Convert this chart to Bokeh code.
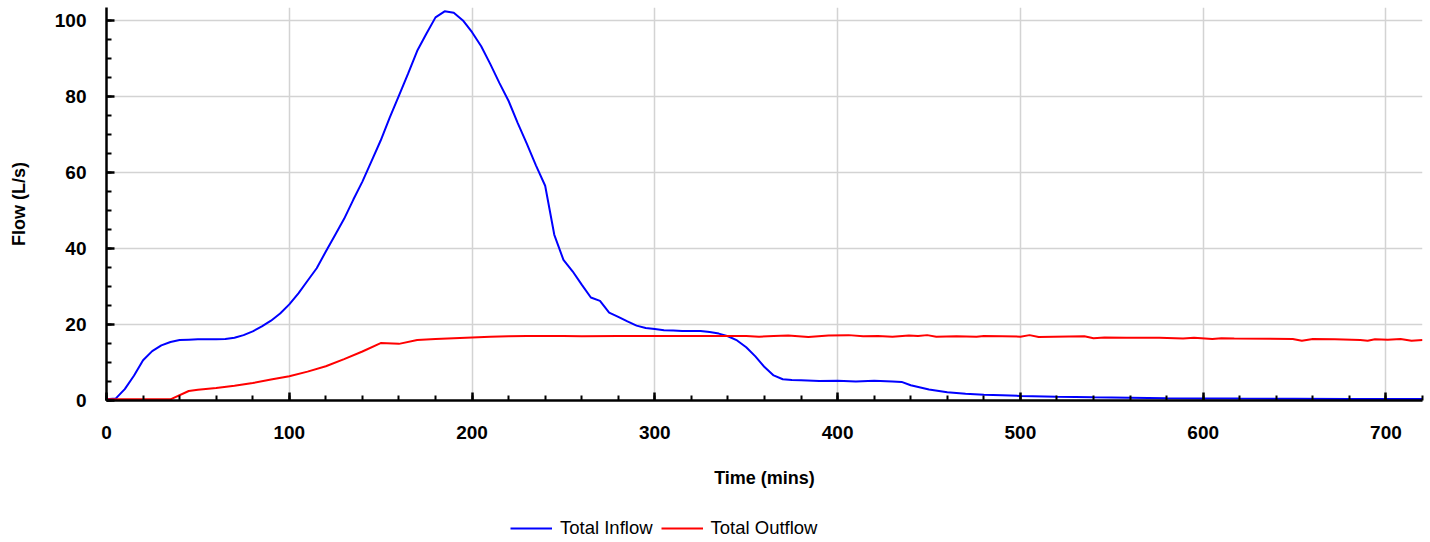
from bokeh.plotting import figure
from bokeh.layouts import column
from bokeh.models import Range1d, Legend, LegendItem, FixedTicker
from bokeh.embed import file_html
from bokeh.resources import INLINE

# ---- data ----
inflow_t = [0, 5, 10, 15, 20, 25, 30, 35, 40, 45, 50, 55, 60, 65, 70, 75, 80, 85, 90, 95,
            100, 105, 110, 115, 120, 125, 130, 135, 140, 145, 150, 155, 160, 165, 170, 175,
            180, 185, 190, 195, 200, 205, 210, 215, 220, 225, 230, 235, 240, 245, 250, 255,
            260, 265, 270, 275, 280, 285, 290, 295, 300, 305, 310, 315, 320, 325, 330, 335,
            340, 345, 350, 355, 360, 365, 370, 375, 380, 390, 400, 410, 420, 430, 435, 440,
            450, 460, 470, 480, 490, 500, 520, 540, 560, 580, 600, 620, 650, 680, 720]
inflow_v = [0.3, 0.5, 3.0, 6.5, 10.6, 13.0, 14.5, 15.4, 15.9, 16.0, 16.1, 16.1, 16.1, 16.2,
            16.5, 17.2, 18.2, 19.5, 21.0, 22.9, 25.3, 28.2, 31.5, 34.8, 39.2, 43.5, 47.8,
            52.8, 57.6, 63.0, 68.4, 74.5, 80.2, 86.0, 92.0, 96.5, 100.8, 102.4, 102.0, 100.0,
            96.9, 93.2, 88.5, 83.5, 78.8, 73.0, 67.5, 61.8, 56.5, 43.6, 37.0, 34.0, 30.5,
            27.1, 26.2, 23.1, 22.0, 20.8, 19.7, 19.1, 18.8, 18.5, 18.4, 18.3, 18.3, 18.3,
            18.0, 17.6, 16.9, 15.8, 14.0, 11.6, 8.8, 6.6, 5.6, 5.4, 5.3, 5.1, 5.2, 5.0, 5.2,
            5.0, 4.9, 4.0, 2.9, 2.2, 1.8, 1.5, 1.35, 1.2, 1.0, 0.85, 0.75, 0.6, 0.55, 0.5,
            0.45, 0.4, 0.4]

outflow_t = [0, 35, 45, 50, 60, 70, 80, 90, 100, 110, 120, 130, 140, 150, 160, 170, 180,
             190, 200, 210, 220, 230, 240, 250, 260, 280, 300, 320, 340, 350, 357, 365, 373,
             384, 395, 406, 414, 422, 430, 439, 444, 449, 454, 465, 476, 480, 490, 500, 505,
             510, 535, 540, 546, 558, 576, 589, 595, 605, 610, 617, 649, 654, 660, 672, 686,
             690, 694, 701, 708, 714, 720]
outflow_v = [0.3, 0.3, 2.5, 2.8, 3.3, 3.9, 4.6, 5.5, 6.4, 7.6, 9.0, 10.9, 12.9, 15.1, 14.9,
             15.9, 16.2, 16.4, 16.6, 16.8, 16.9, 17.0, 17.0, 17.0, 16.9, 17.0, 17.0, 17.0,
             17.0, 17.0, 16.8, 17.0, 17.1, 16.7, 17.1, 17.2, 16.9, 17.0, 16.8, 17.1, 17.0,
             17.2, 16.8, 16.9, 16.8, 17.0, 16.9, 16.8, 17.2, 16.7, 16.9, 16.4, 16.6, 16.5,
             16.5, 16.3, 16.5, 16.2, 16.4, 16.3, 16.2, 15.7, 16.2, 16.1, 15.9, 15.7, 16.1,
             16.0, 16.2, 15.7, 15.9]

x_ticks = [0, 100, 200, 300, 400, 500, 600, 700]
y_ticks = [0, 20, 40, 60, 80, 100]
x_label = "Time (mins)"
y_label = "Flow (L/s)"
series_names = ["Total Inflow", "Total Outflow"]
series_colors = ["#0000ff", "#ff0000"]

FONT = "Liberation Sans"

p = figure(width=1430, height=505, output_backend="svg", toolbar_location=None,
           x_range=Range1d(0, 720), y_range=Range1d(0, 103.4),
           min_border_left=106, min_border_right=8, min_border_top=7, min_border_bottom=105)
p.outline_line_color = None
p.background_fill_color = "white"

p.line(inflow_t, inflow_v, line_color=series_colors[0], line_width=2)
p.line(outflow_t, outflow_v, line_color=series_colors[1], line_width=2)

p.xaxis.ticker = FixedTicker(ticks=x_ticks, minor_ticks=list(range(0, 721, 20)))
p.yaxis.ticker = FixedTicker(ticks=y_ticks, minor_ticks=list(range(0, 104, 5)))

for ax in (p.xaxis[0], p.yaxis[0]):
    ax.axis_line_width = 2.5
    ax.axis_line_color = "black"
    ax.major_tick_line_width = 2.5
    ax.minor_tick_line_width = 2
    ax.major_tick_in = 8
    ax.major_tick_out = 0
    ax.minor_tick_in = 5
    ax.minor_tick_out = 0
    ax.major_label_text_font = FONT
    ax.major_label_text_font_style = "bold"
    ax.major_label_text_font_size = "19px"
    ax.major_label_text_color = "black"
    ax.axis_label_text_font = FONT
    ax.axis_label_text_font_style = "bold"
    ax.axis_label_text_font_size = "18px"
    ax.axis_label_text_color = "black"

p.xaxis.axis_label = x_label
p.yaxis.axis_label = y_label
p.xaxis.major_label_standoff = 25
p.xaxis.axis_label_standoff = 26
p.yaxis.major_label_standoff = 20
p.yaxis.axis_label_standoff = 23

p.xgrid.ticker = FixedTicker(ticks=x_ticks[1:])
p.ygrid.ticker = FixedTicker(ticks=y_ticks[1:])
p.grid.grid_line_color = "#d3d3d3"
p.grid.grid_line_width = 1.5

# ---- legend strip below the chart (series drawn off-range, only legend visible) ----
lg = figure(width=1430, height=37, output_backend="svg", toolbar_location=None,
            x_range=Range1d(-2, -1), y_range=Range1d(-2, -1),
            x_axis_location=None, y_axis_location=None,
            min_border_left=0, min_border_right=0, min_border_top=0, min_border_bottom=0)
lg.outline_line_color = None
lg.grid.visible = False
lr1 = lg.line(inflow_t, inflow_v, line_color=series_colors[0], line_width=2)
lr2 = lg.line(outflow_t, outflow_v, line_color=series_colors[1], line_width=2)

legend = Legend(items=[LegendItem(label=series_names[0], renderers=[lr1]),
                       LegendItem(label=series_names[1], renderers=[lr2])],
                orientation="horizontal", location=(404, 3),
                label_text_font=FONT, label_text_font_size="18.5px",
                label_text_color="black", glyph_width=42, label_standoff=8,
                spacing=8, padding=0, margin=0, border_line_color=None,
                background_fill_alpha=0)
lg.add_layout(legend)

layout = column(p, lg, spacing=0)
open("out.html", "w").write(file_html(layout, INLINE))
